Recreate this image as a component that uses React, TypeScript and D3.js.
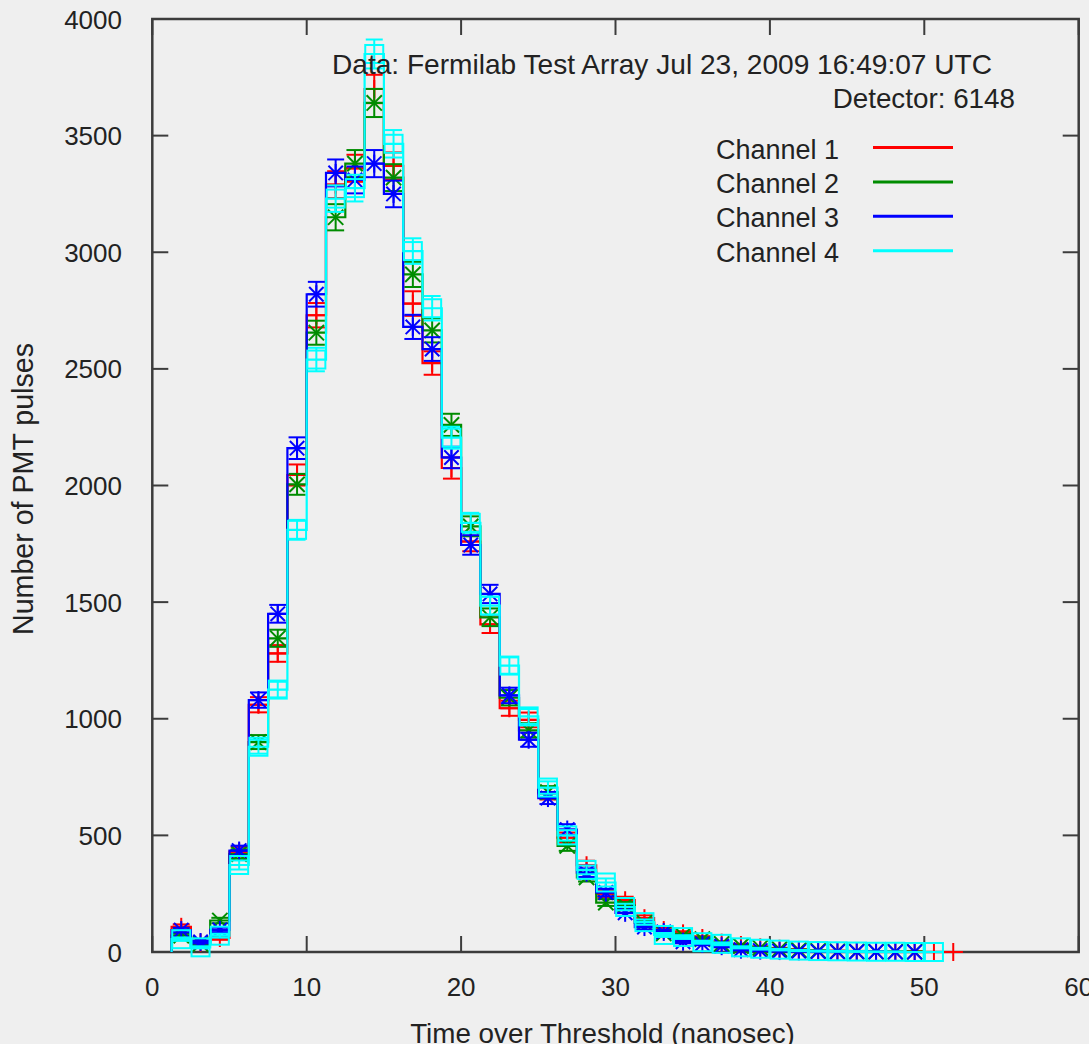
import React from "react";
import * as d3 from "d3";

// Bin centres (ns), bin width 1.25 ns
const binCenters = [
  1.875, 3.125, 4.375, 5.625, 6.875, 8.125, 9.375, 10.625, 11.875, 13.125,
  14.375, 15.625, 16.875, 18.125, 19.375, 20.625, 21.875, 23.125, 24.375, 25.625,
  26.875, 28.125, 29.375, 30.625, 31.875, 33.125, 34.375, 35.625, 36.875, 38.125,
  39.375, 40.625, 41.875, 43.125, 44.375, 45.625, 46.875, 48.125, 49.375, 50.625,
  51.875,
];
const binWidth = 1.25;

const channel1 = [
  108, 40, 60, 430, 1060, 1280, 2045, 2730, 3290, 3360,
  3700, 3370, 2780, 2525, 2075, 1760, 1405, 1045, 995, 680,
  490, 372, 250, 222, 145, 94, 80, 60, 40, 30,
  20, 14, 9, 6, 4, 3, 2, 1, 1, 0,
  0,
];
const channel2 = [
  70, 35, 135, 420, 900, 1345, 2005, 2655, 3150, 3380,
  3640, 3320, 2905, 2665, 2260, 1825, 1435, 1090, 950, 685,
  455, 320, 212, 200, 125, 80, 70, 55, 35, 25,
  18, 12, 8, 5, 3, 2, 1, 1, 1, null,
  null,
];
const channel3 = [
  94, 43, 95, 435, 1080, 1450, 2160, 2820, 3340, 3310,
  3380, 3250, 2680, 2585, 2120, 1745, 1535, 1100, 910, 660,
  525, 340, 255, 168, 107, 86, 44, 35, 25, 10,
  6, 4, 3, 2, 1, 1, 1, 0, 0, null,
  null,
];
const channel4 = [
  55, 20, 70, 373, 880, 1125, 1810, 2540, 3230, 3275,
  3850, 3465, 3005, 2760, 2205, 1840, 1485, 1228, 1010, 705,
  500, 352, 298, 193, 128, 73, 64, 42, 35, 20,
  14, 10, 6, 4, 3, 2, 1, 1, 0, 0,
  null,
];

const channelNames = ["Channel 1", "Channel 2", "Channel 3", "Channel 4"];
const channelColors = ["#ff0000", "#008c00", "#0000ff", "#00ffff"];
const channelMarkers = ["plus", "cross", "star", "square"];
const channelValues = [channel1, channel2, channel3, channel4];

const xTicks = [0, 10, 20, 30, 40, 50, 60];
const yTicks = [0, 500, 1000, 1500, 2000, 2500, 3000, 3500, 4000];

const titleLine1 = "Data: Fermilab Test Array Jul 23, 2009 16:49:07 UTC";
const titleLine2 = "Detector: 6148";
const xLabel = "Time over Threshold (nanosec)";
const yLabel = "Number of PMT pulses";

const W = 1089;
const H = 1047;
const FONT = "'Liberation Sans', Arial, Helvetica, sans-serif";

export default function App() {
  const x = d3.scaleLinear().domain([0, 60]).range([152.3, 1078.7]);
  const y = d3.scaleLinear().domain([0, 4000]).range([952, 19]);
  const left = x(0), right = x(60), top = y(4000), bottom = y(0);
  const tickLen = 16;
  const ms = 9; // marker half size
  const cap = 8.5;

  const lineGen = d3
    .line<[number, number]>()
    .x((d) => x(d[0]))
    .y((d) => y(d[1]));

  const series = channelValues.map((vals, ci) => {
    const pts = binCenters
      .map((c, i) => ({ c, v: vals[i] }))
      .filter((p) => p.v !== null && p.v !== undefined) as { c: number; v: number }[];
    const verts: [number, number][] = [];
    pts.forEach((p, i) => {
      const l = p.c - binWidth / 2;
      const r = p.c + binWidth / 2;
      if (i === 0) verts.push([l, 0]);
      verts.push([l, p.v]);
      verts.push([r, p.v]);
      if (i === pts.length - 1) verts.push([r, 0]);
    });
    return { pts, path: lineGen(verts) || "", color: channelColors[ci], marker: channelMarkers[ci] };
  });

  const marker = (type: string, cx: number, cy: number, color: string, key: string) => {
    const sw = 2;
    if (type === "plus") {
      return (
        <g key={key} stroke={color} strokeWidth={sw}>
          <line x1={cx - ms} x2={cx + ms} y1={cy} y2={cy} />
          <line x1={cx} x2={cx} y1={cy - ms} y2={cy + ms} />
        </g>
      );
    }
    if (type === "cross") {
      const d = ms * 0.85;
      return (
        <g key={key} stroke={color} strokeWidth={sw}>
          <line x1={cx - d} x2={cx + d} y1={cy - d} y2={cy + d} />
          <line x1={cx - d} x2={cx + d} y1={cy + d} y2={cy - d} />
        </g>
      );
    }
    if (type === "star") {
      const d = ms * 0.8;
      return (
        <g key={key} stroke={color} strokeWidth={sw}>
          <line x1={cx - ms} x2={cx + ms} y1={cy} y2={cy} />
          <line x1={cx} x2={cx} y1={cy - ms} y2={cy + ms} />
          <line x1={cx - d} x2={cx + d} y1={cy - d} y2={cy + d} />
          <line x1={cx - d} x2={cx + d} y1={cy + d} y2={cy - d} />
        </g>
      );
    }
    return (
      <rect key={key} x={cx - ms} y={cy - ms} width={2 * ms} height={2 * ms} fill="none" stroke={color} strokeWidth={sw} />
    );
  };

  return (
    <svg
      width={W}
      height={H}
      style={{ position: "absolute", left: 0, top: 0, background: "#efefef" }}
      fontFamily={FONT}
    >
      <rect x={0} y={0} width={W} height={H} fill="#efefef" />

      {/* frame */}
      <rect x={left} y={top} width={right - left} height={bottom - top} fill="none" stroke="#3c3c3c" strokeWidth={2.5} />
      {xTicks.map((t) => (
        <g key={"xt" + t} stroke="#3c3c3c" strokeWidth={2}>
          <line x1={x(t)} x2={x(t)} y1={bottom} y2={bottom - tickLen} />
          <line x1={x(t)} x2={x(t)} y1={top} y2={top + tickLen} />
        </g>
      ))}
      {yTicks.map((t) => (
        <g key={"yt" + t} stroke="#3c3c3c" strokeWidth={2}>
          <line x1={left} x2={left + tickLen} y1={y(t)} y2={y(t)} />
          <line x1={right} x2={right - tickLen} y1={y(t)} y2={y(t)} />
        </g>
      ))}

      {/* series */}
      {series.map((s, si) => (
        <g key={si}>
          <path d={s.path} fill="none" stroke={s.color} strokeWidth={2.2} />
          {s.pts.map((p, i) => {
            const cx = x(p.c);
            const e = Math.sqrt(p.v);
            const y1 = y(p.v + e);
            const y2 = y(p.v - e);
            return (
              <g key={i} stroke={s.color} strokeWidth={2}>
                <line x1={cx} x2={cx} y1={y1} y2={y2} />
                <line x1={cx - cap} x2={cx + cap} y1={y1} y2={y1} />
                <line x1={cx - cap} x2={cx + cap} y1={y2} y2={y2} />
              </g>
            );
          })}
          {s.pts.map((p, i) => marker(s.marker, x(p.c), y(p.v), s.color, "m" + i))}
        </g>
      ))}

      {/* tick labels */}
      {xTicks.map((t) => (
        <text key={"xl" + t} x={x(t)} y={996} fontSize={26} textAnchor="middle" fill="#222">
          {t}
        </text>
      ))}
      {yTicks.map((t) => (
        <text key={"yl" + t} x={122} y={y(t) + 9.5} fontSize={26} textAnchor="end" fill="#222">
          {t}
        </text>
      ))}

      {/* axis labels */}
      <text x={(left + right) / 2 - 13} y={1043} fontSize={27.8} textAnchor="middle" fill="#222">
        {xLabel}
      </text>
      <text
        transform={`translate(33, 489) rotate(-90)`}
        fontSize={28.6}
        textAnchor="middle"
        fill="#222"
      >
        {yLabel}
      </text>

      {/* titles */}
      <text x={992} y={74} fontSize={28.1} textAnchor="end" fill="#222">
        {titleLine1}
      </text>
      <text x={1015} y={108} fontSize={27.8} textAnchor="end" fill="#222">
        {titleLine2}
      </text>

      {/* legend */}
      {channelNames.map((n, i) => {
        const ly = 147.5 + i * 34.4;
        return (
          <g key={n}>
            <text x={716} y={ly + 11} fontSize={27} fill="#222">
              {n}
            </text>
            <line x1={873} x2={953} y1={ly} y2={ly} stroke={channelColors[i]} strokeWidth={3} />
          </g>
        );
      })}

      {/* bottom white strip of the original capture */}
      <rect x={0} y={1044} width={W} height={H - 1044} fill="#ffffff" />
    </svg>
  );
}
